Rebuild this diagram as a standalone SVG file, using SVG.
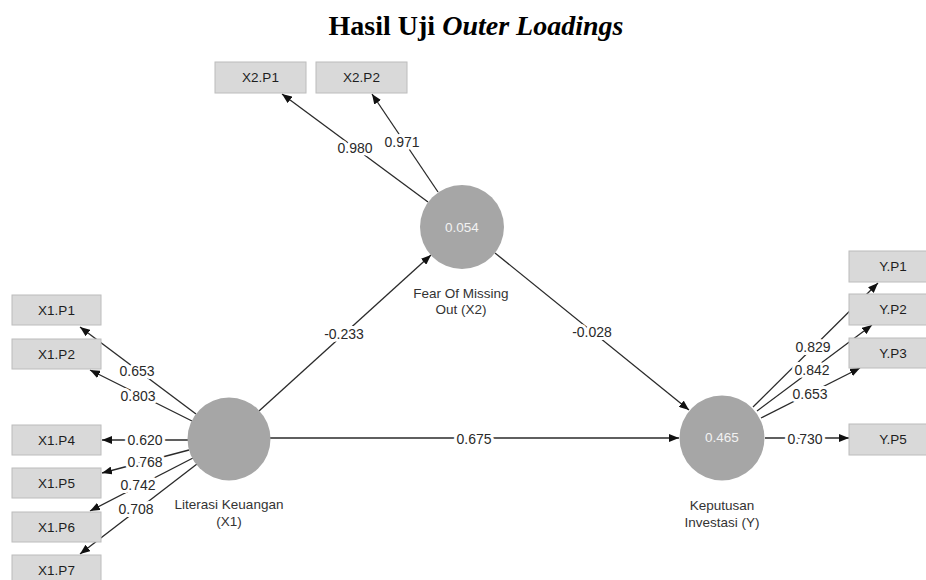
<svg xmlns="http://www.w3.org/2000/svg" width="926" height="580" viewBox="0 0 926 580">
<defs>
<marker id="arr" viewBox="0 0 10 8" refX="10" refY="4" markerWidth="10" markerHeight="8" markerUnits="userSpaceOnUse" orient="auto">
<path d="M0,0 L10,4 L0,8 z" fill="#111"/>
</marker>
<style>
.box{fill:#d9d9d9;stroke:#bcbcbc;stroke-width:1}
.bt{font-family:"Liberation Sans",Arial,sans-serif;font-size:13.5px;fill:#1e1e1e;text-anchor:middle;dominant-baseline:central}
.lv{fill:#a6a6a6}
.lvv{font-family:"Liberation Sans",Arial,sans-serif;font-size:13.5px;fill:#f2f2f2;text-anchor:middle;dominant-baseline:central}
.lvl{font-family:"Liberation Sans",Arial,sans-serif;font-size:13.5px;fill:#333;text-anchor:middle}
.ln{stroke:#2a2a2a;stroke-width:1.3;fill:none;marker-end:url(#arr)}
.lbl{font-family:"Liberation Sans",Arial,sans-serif;font-size:14px;fill:#2a2a2a;text-anchor:middle;dominant-baseline:central;stroke:#fff;stroke-width:6;paint-order:stroke;stroke-linejoin:round}
.title{font-family:"Liberation Serif","Times New Roman",serif;font-size:28px;font-weight:bold;fill:#000;text-anchor:middle}
</style>
</defs>
<rect width="926" height="580" fill="#fff"/>
<text class="title" x="476" y="35">Hasil Uji <tspan font-style="italic">Outer Loadings</tspan></text>

<g id="connectors">
<line class="ln" x1="196" y1="414" x2="80" y2="327"/>
<line class="ln" x1="192" y1="421" x2="90" y2="370"/>
<line class="ln" x1="188" y1="440" x2="102" y2="440"/>
<line class="ln" x1="189" y1="450" x2="102" y2="473"/>
<line class="ln" x1="193" y1="458" x2="90" y2="511"/>
<line class="ln" x1="197" y1="464" x2="80" y2="554"/>
<line class="ln" x1="428" y1="202" x2="282" y2="94"/>
<line class="ln" x1="438" y1="192" x2="372" y2="94"/>
<line class="ln" x1="259" y1="411" x2="431" y2="255"/>
<line class="ln" x1="495" y1="253" x2="689" y2="410"/>
<line class="ln" x1="270" y1="438" x2="679" y2="438"/>
<line class="ln" x1="753" y1="407" x2="878" y2="283"/>
<line class="ln" x1="757" y1="411" x2="872" y2="325"/>
<line class="ln" x1="761" y1="418" x2="860" y2="368"/>
<line class="ln" x1="765" y1="438" x2="849" y2="438"/>
<text class="lbl" x="137" y="371">0.653</text>
<text class="lbl" x="138" y="396">0.803</text>
<text class="lbl" x="145" y="440">0.620</text>
<text class="lbl" x="145" y="462">0.768</text>
<text class="lbl" x="138" y="485">0.742</text>
<text class="lbl" x="136" y="509">0.708</text>
<text class="lbl" x="355" y="148">0.980</text>
<text class="lbl" x="402" y="142">0.971</text>
<text class="lbl" x="344" y="334">-0.233</text>
<text class="lbl" x="592" y="332">-0.028</text>
<text class="lbl" x="474" y="439">0.675</text>
<text class="lbl" x="813" y="347">0.829</text>
<text class="lbl" x="812" y="370">0.842</text>
<text class="lbl" x="810" y="394">0.653</text>
<text class="lbl" x="805" y="439">0.730</text>
</g>

<g id="X1.P1"><rect class="box" x="12" y="295" width="89" height="30"/><text class="bt" x="56.5" y="310">X1.P1</text></g>
<g id="X1.P2"><rect class="box" x="12" y="339" width="89" height="30"/><text class="bt" x="56.5" y="354">X1.P2</text></g>
<g id="X1.P4"><rect class="box" x="12" y="425" width="89" height="30"/><text class="bt" x="56.5" y="440">X1.P4</text></g>
<g id="X1.P5"><rect class="box" x="12" y="468" width="89" height="30"/><text class="bt" x="56.5" y="483">X1.P5</text></g>
<g id="X1.P6"><rect class="box" x="12" y="512" width="89" height="30"/><text class="bt" x="56.5" y="527">X1.P6</text></g>
<g id="X1.P7"><rect class="box" x="12" y="555" width="89" height="30"/><text class="bt" x="56.5" y="570">X1.P7</text></g>
<g id="X2.P1"><rect class="box" x="215" y="62" width="91" height="31"/><text class="bt" x="260.5" y="77.5">X2.P1</text></g>
<g id="X2.P2"><rect class="box" x="316" y="62" width="91" height="31"/><text class="bt" x="361.5" y="77.5">X2.P2</text></g>
<g id="Y.P1"><rect class="box" x="849" y="251" width="89" height="31"/><text class="bt" x="893" y="266.5">Y.P1</text></g>
<g id="Y.P2"><rect class="box" x="849" y="294" width="89" height="31"/><text class="bt" x="893" y="309.5">Y.P2</text></g>
<g id="Y.P3"><rect class="box" x="849" y="338" width="89" height="30"/><text class="bt" x="893" y="353">Y.P3</text></g>
<g id="Y.P5"><rect class="box" x="849" y="424" width="89" height="31"/><text class="bt" x="893" y="439.5">Y.P5</text></g>

<g id="X1"><circle class="lv" cx="229" cy="439" r="41.5"/><text class="lvl" x="229" y="509">Literasi Keuangan</text><text class="lvl" x="229" y="526">(X1)</text></g>
<g id="X2"><circle class="lv" cx="462" cy="227" r="42"/><text class="lvv" x="462" y="227">0.054</text><text class="lvl" x="461" y="298">Fear Of Missing</text><text class="lvl" x="461" y="314">Out (X2)</text></g>
<g id="Y"><circle class="lv" cx="722" cy="438" r="42.5"/><text class="lvv" x="722" y="437">0.465</text><text class="lvl" x="722" y="510">Keputusan</text><text class="lvl" x="722" y="527">Investasi (Y)</text></g>
</svg>
